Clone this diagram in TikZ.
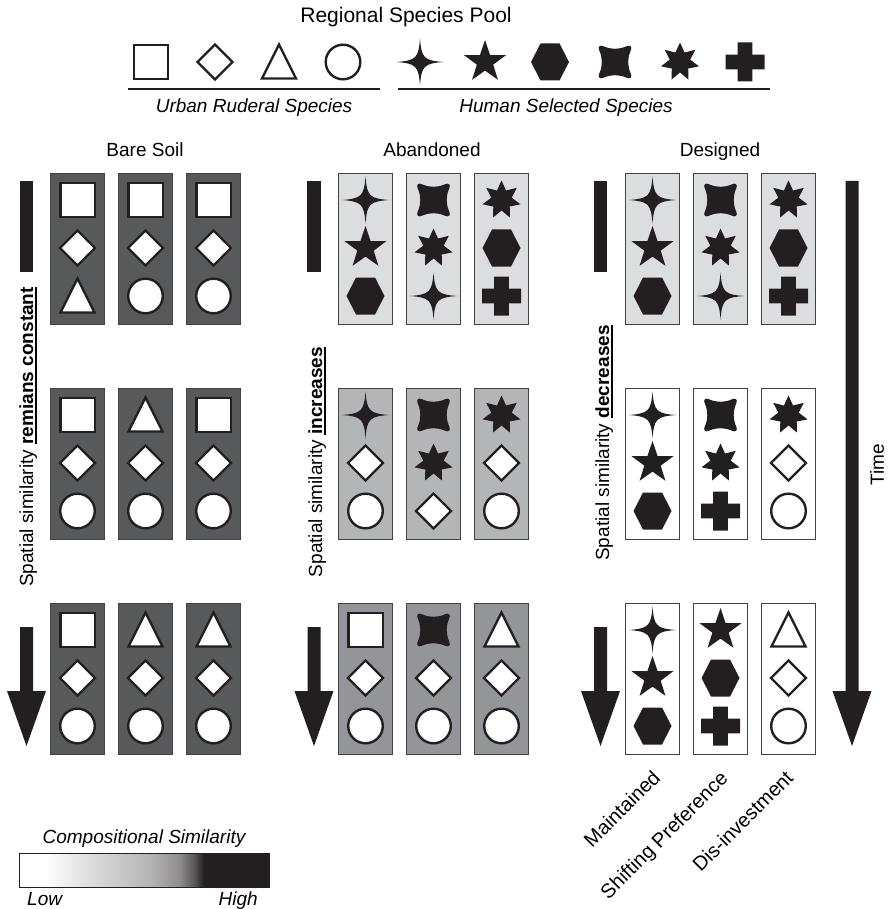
\documentclass[tikz,border=0pt]{standalone}
\usepackage{fontspec}
\setmainfont{Liberation Sans}
\usepackage{tikz}
\usetikzlibrary{calc,positioning}

\definecolor{ink}{HTML}{231F20}
\definecolor{soilg}{HTML}{58595B}
\definecolor{paleg}{HTML}{DCDDDF}
\definecolor{midg}{HTML}{B3B5B7}
\definecolor{darkg}{HTML}{939598}

\pgfdeclarehorizontalshading{simshade}{100bp}{color(0bp)=(white); color(30bp)=(white); color(41bp)=(ink!18); color(51bp)=(ink!33); color(57bp)=(ink!50); color(60bp)=(ink!75); color(62bp)=(ink); color(100bp)=(ink)}

\tikzstyle{plotbox} = [draw=ink!85, line width=1pt, minimum width=54pt, minimum height=151pt, inner sep=0pt, anchor=north west]
\tikzstyle{opensym} = [draw=ink, line width=2.4pt, fill=white, line join=miter]
\tikzstyle{txt} = [font=\fontsize{19}{22}\selectfont, inner sep=0pt]
\tikzstyle{itxt} = [font=\fontsize{19}{22}\selectfont\itshape, inner sep=0pt]
\tikzstyle{slant} = [font=\fontsize{20}{23}\selectfont, inner sep=0pt, rotate=45, anchor=east]
\tikzstyle{poolline} = [ink, line width=2pt]

\newcommand{\ulb}[1]{\setbox0\hbox{\textbf{#1}}\rlap{\rule[-3.5pt]{\wd0}{1.5pt}}\box0}

\newcommand{\sqsym}[1]{\draw[opensym,shift={#1}] (-17.2,-17.2) rectangle (17.2,17.2);}
\newcommand{\diasym}[1]{\draw[opensym,shift={#1}] (0,-17.5) -- (17.5,0) -- (0,17.5) -- (-17.5,0) -- cycle;}
\newcommand{\trisym}[1]{\draw[opensym,shift={#1}] (-17,16.5) -- (17,16.5) -- (0,-17.5) -- cycle;}
\newcommand{\circsym}[1]{\draw[opensym,shift={#1}] (0,0) circle (17.3);}
\newcommand{\sparksym}[1]{\fill[ink,shift={#1}] (0,-23.5) .. controls (1.5,-4) and (4,-1.5) .. (23.5,0) .. controls (4,1.5) and (1.5,4) .. (0,23.5) .. controls (-1.5,4) and (-4,1.5) .. (-23.5,0) .. controls (-4,-1.5) and (-1.5,-4) .. (0,-23.5) -- cycle;}
\newcommand{\starsym}[1]{\fill[ink,shift={#1}] (-90:22) \foreach \k in {0,...,4}{ -- ({-54+\k*72}:8.6) -- ({-18+\k*72}:22)} -- cycle;}
\newcommand{\heptsym}[1]{\fill[ink,shift={#1}] (-90:19.5) \foreach \k in {0,...,6}{ -- ({-90+25.714+\k*51.429}:10.5) -- ({-90+51.429*(\k+1)}:19.5)} -- cycle;}
\newcommand{\hexsym}[1]{\fill[ink,shift={#1}] (-19,0) -- (-9.5,-18.5) -- (9.5,-18.5) -- (19,0) -- (9.5,18.5) -- (-9.5,18.5) -- cycle;}
\newcommand{\cushsym}[1]{\fill[ink,shift={#1},scale=0.95] (-12,-16.5) .. controls (-4,-13) and (4,-13) .. (12,-16.5) .. controls (16,-18.5) and (18.5,-16) .. (16.5,-12) .. controls (13,-4) and (13,4) .. (16.5,12) .. controls (18.5,16) and (16,18.5) .. (12,16.5) .. controls (4,13) and (-4,13) .. (-12,16.5) .. controls (-16,18.5) and (-18.5,16) .. (-16.5,12) .. controls (-13,4) and (-13,-4) .. (-16.5,-12) .. controls (-18.5,-16) and (-16,-18.5) .. (-12,-16.5) -- cycle;}
\newcommand{\plussym}[1]{\fill[ink,shift={#1}] (-7.3,-19.5) rectangle (7.3,19.5) (-19.5,-7.3) rectangle (19.5,7.3);}

\newcommand{\specbox}[7]{%
  \node[plotbox, fill=#4] (#1) at (#2,#3) {};
  #5{($(#1.north)+(0,27)$)}
  #6{($(#1.north)+(0,75)$)}
  #7{($(#1.north)+(0,123)$)}
}
\newcommand{\blockarrow}[2]{\fill[ink] (#1-6.5,#2) -- (#1+6.5,#2) -- (#1+6.5,691) -- (#1+19.5,691) -- (#1,746) -- (#1-19.5,691) -- (#1-6.5,691) -- cycle;}

\begin{document}
\begin{tikzpicture}[x=1pt, y=-1pt]
  \useasboundingbox (0,0) rectangle (889,909);

  \node[txt, font=\fontsize{21}{24}\selectfont, anchor=base] (pool) at (406,23) {Regional Species Pool};
  \foreach \s/\x in {\sqsym/151,\diasym/215,\trisym/279,\circsym/343,\sparksym/420,\starsym/485,\hexsym/550,\cushsym/615,\heptsym/680,\plussym/745}
    {\s{(\x,62)}}
  \draw[poolline] (128,89) -- (380,89);
  \draw[poolline] (398,89) -- (770,89);
  \node[itxt, anchor=base] (urban) at (254,113) {Urban Ruderal Species};
  \node[itxt, anchor=base] (human) at (566,113) {Human Selected Species};

  \node[txt, anchor=base] (baresoil) at (145,157) {Bare Soil};
  \node[txt, anchor=base] (abandoned) at (432,157) {Abandoned};
  \node[txt, anchor=base] (designed) at (720,157) {Designed};

  \foreach \nm/\x/\y/\f/\sa/\sb/\sc in {
      bs11/50/173/soilg/\sqsym/\diasym/\trisym, bs12/118/173/soilg/\sqsym/\diasym/\circsym, bs13/186/173/soilg/\sqsym/\diasym/\circsym,
      bs21/50/388/soilg/\sqsym/\diasym/\circsym, bs22/118/388/soilg/\trisym/\diasym/\circsym, bs23/186/388/soilg/\sqsym/\diasym/\circsym,
      bs31/50/603/soilg/\sqsym/\diasym/\circsym, bs32/118/603/soilg/\trisym/\diasym/\circsym, bs33/186/603/soilg/\trisym/\diasym/\circsym,
      ab11/338/173/paleg/\sparksym/\starsym/\hexsym, ab12/406/173/paleg/\cushsym/\heptsym/\sparksym, ab13/474/173/paleg/\heptsym/\hexsym/\plussym,
      ab21/338/388/midg/\sparksym/\diasym/\circsym, ab22/406/388/midg/\cushsym/\heptsym/\diasym, ab23/474/388/midg/\heptsym/\diasym/\circsym,
      ab31/338/603/darkg/\sqsym/\diasym/\circsym, ab32/406/603/darkg/\cushsym/\diasym/\circsym, ab33/474/603/darkg/\trisym/\diasym/\circsym,
      ds11/625/173/paleg/\sparksym/\starsym/\hexsym, ds12/693/173/paleg/\cushsym/\heptsym/\sparksym, ds13/761/173/paleg/\heptsym/\hexsym/\plussym,
      ds21/625/388/white/\sparksym/\starsym/\hexsym, ds22/693/388/white/\cushsym/\heptsym/\plussym, ds23/761/388/white/\heptsym/\diasym/\circsym,
      ds31/625/603/white/\sparksym/\starsym/\hexsym, ds32/693/603/white/\starsym/\hexsym/\plussym, ds33/761/603/white/\trisym/\diasym/\circsym}
    {\specbox{\nm}{\x}{\y}{\f}{\sa}{\sb}{\sc}}

  \fill[ink] (20,181) rectangle (33,272);
  \fill[ink] (307,181) rectangle (321,272);
  \fill[ink] (594,181) rectangle (607,272);
  \blockarrow{26.5}{627}
  \blockarrow{314}{627}
  \blockarrow{600.5}{627}
  \blockarrow{852}{181}

  \node[txt, rotate=90, anchor=base] (constant) at (33,437) {Spatial similarity \ulb{remians constant}};
  \node[txt, rotate=90, anchor=base] (increases) at (322,462) {Spatial similarity \ulb{increases}};
  \node[txt, rotate=90, anchor=base] (decreases) at (609,443) {Spatial similarity \ulb{decreases}};
  \node[txt, rotate=90] (time) at (877,465) {Time};

  \node[slant] (maint) at ($(ds31.south)+(4,19)$) {Maintained};
  \node[slant] (shift) at ($(ds32.south)+(5,21)$) {Shifting Preference};
  \node[slant] (disinv) at ($(ds33.south)+(1,19)$) {Dis-investment};

  \node[itxt] (compsim) at (144,839) {Compositional Similarity};
  \shadedraw[shading=simshade, draw=ink, line width=1pt] (19,853) rectangle (269,887);
  \node[itxt, anchor=base west] (low) at (27,905) {Low};
  \node[itxt, anchor=base east] (high) at (258,905) {High};
\end{tikzpicture}
\end{document}
